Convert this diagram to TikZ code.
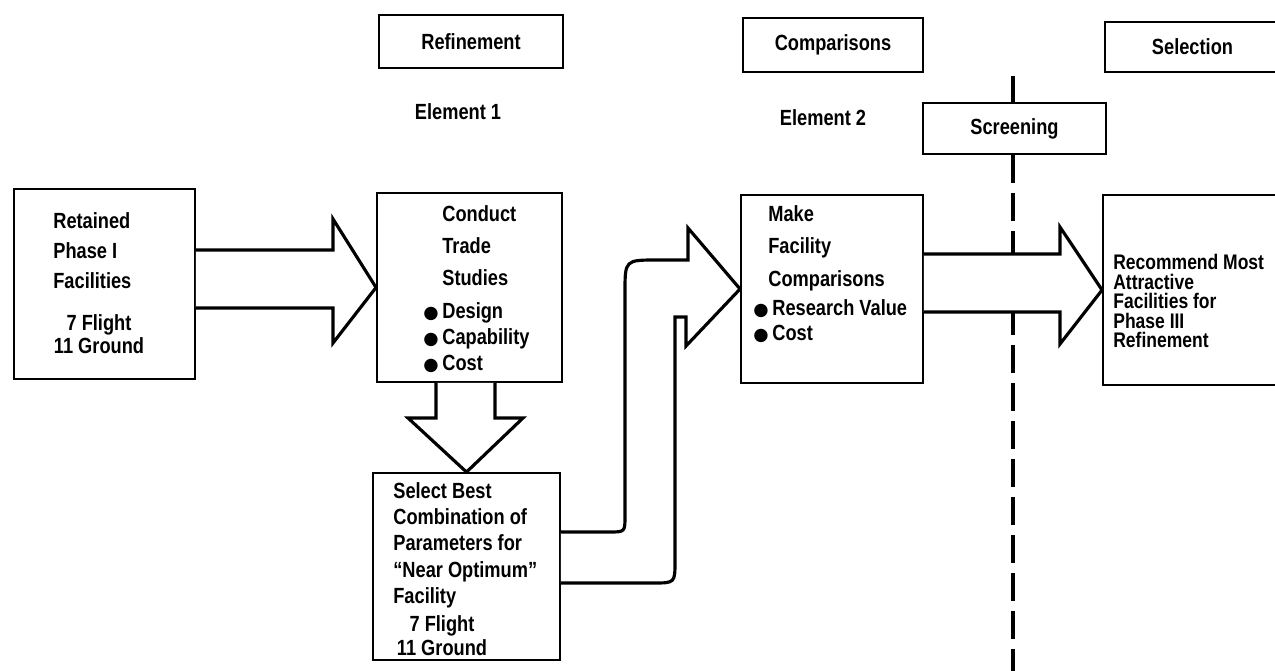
\documentclass[tikz,border=0pt]{standalone}
\usepackage{fontspec}
\setmainfont{Liberation Sans}[FakeStretch=0.83]
\newfontfamily\dotfont{DejaVu Sans}
\usetikzlibrary{calc}
\newcommand{\bul}{{\dotfont\fontsize{10}{10}\selectfont ●}\,}

\begin{document}
\begin{tikzpicture}[x=0.02cm, y=-0.02cm,
    font=\bfseries\fontsize{12.5}{15}\selectfont,
    box/.style={draw, line width=1.1pt, inner sep=0pt},
    txt/.style={anchor=north west, inner sep=0pt, align=left},
    blk/.style={draw, fill=white, line width=1.8pt, line join=miter},
    dashline/.style={line width=2.2pt, dash pattern=on 0.56cm off 0.2cm}
]
\useasboundingbox (0,0) rectangle (1275,670);
\clip (0,0) rectangle (1275,670);

\node[box, minimum width=3.68cm, minimum height=1.06cm] (refin) at (471,41.5) {Refinement};
\node[box, minimum width=3.60cm, minimum height=1.08cm] (comp) at (833,45) {Comparisons};
\node[box, minimum width=3.50cm, minimum height=1.00cm] (selc) at (1192.5,47) {Selection};
\node[box, minimum width=3.66cm, minimum height=1.02cm] (scr) at (1014.5,128.5) {Screening};
\node (el1) at (458,112) {Element 1};
\node (el2) at (823,118) {Element 2};

\node[box, minimum width=3.62cm, minimum height=3.80cm] (ret) at (104.5,284) {};
\node[box, minimum width=3.70cm, minimum height=3.78cm] (cond) at (469.5,287.5) {};
\node[box, minimum width=3.74cm, minimum height=3.74cm] (sel) at (466.5,566.5) {};
\node[box, minimum width=3.64cm, minimum height=3.76cm] (make) at (832,289) {};
\node[box, minimum width=3.94cm, minimum height=3.80cm] (rec) at (1201.5,290) {};

\node[txt, font=\bfseries\fontsize{12.5}{17.1}\selectfont] (ret-a) at (53,212) {Retained\\Phase I\\Facilities};
\node[txt, anchor=north, align=center, font=\bfseries\fontsize{12.5}{13.1}\selectfont] (ret-b) at (99,314) {7 Flight\\11 Ground};
\node[txt, font=\bfseries\fontsize{12.5}{18.2}\selectfont] (cond-a) at (442,205) {Conduct\\Trade\\Studies};
\node[txt, font=\bfseries\fontsize{12.5}{14.8}\selectfont] (cond-b) at (423,302) {\bul Design\\\bul Capability\\\bul Cost};
\node[txt, font=\bfseries\fontsize{12.5}{15}\selectfont] (sel-a) at (393,482) {Select Best\\Combination of\\Parameters for\\“Near Optimum”\\Facility};
\node[txt, anchor=north, align=center, font=\bfseries\fontsize{12.5}{13.7}\selectfont] (sel-b) at (442,615) {7 Flight\\11 Ground};
\node[txt, font=\bfseries\fontsize{12.5}{18.5}\selectfont] (make-a) at (768,205) {Make\\Facility\\Comparisons};
\node[txt, font=\bfseries\fontsize{12.5}{14.2}\selectfont] (make-b) at (753,299) {\bul Research Value\\\bul Cost};
\node[txt, font=\bfseries\fontsize{12}{11.1}\selectfont] (rec-a) at (1113,254) {Recommend Most\\Attractive\\Facilities for\\Phase III\\Refinement};

\draw[dashline] (scr.north -| 1013,0) -- (1013,76);
\draw[dashline] (scr.south -| 1013,0) -- (1013,690);

\draw[blk] (ret.east |- 0,250) -- (333,250) -- (333,219) -- (cond.west) -- (333,343) -- (333,308) -- (ret.east |- 0,308);
\draw[blk] (cond.south -| 436,0) -- (436,418) -- (408,418) -- (sel.north) -- (523,418) -- (495,418) -- (cond.south -| 495,0);
\draw[blk] (sel.east |- 0,532) -- (609,532) .. controls (625,532) .. (625,516) -- (625,292)
    .. controls (625,260) .. (657,260) -- (688,260) -- (688,228) -- (make.west)
    -- (686,346) -- (686,317) -- (675,317) -- (675,561)
    .. controls (675,583) .. (653,583) -- (sel.east |- 0,583);
\draw[blk] (make.east |- 0,254) -- (1060,254) -- (1060,227) -- (rec.west) -- (1060,344) -- (1060,312) -- (make.east |- 0,312);
\end{tikzpicture}
\end{document}
